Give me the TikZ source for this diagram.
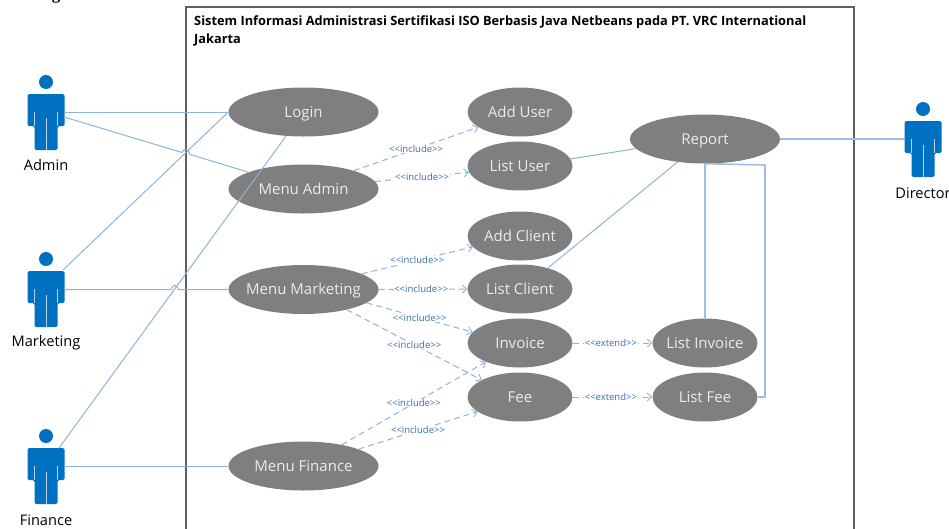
\documentclass[tikz,border=0pt]{standalone}
\usepackage{fontspec}
\setmainfont{Open Sans}
\newfontfamily\headfont{Liberation Serif}
\usetikzlibrary{arrows.meta,shapes.geometric}
\definecolor{lineblue}{HTML}{8AB4DE}
\definecolor{actorblue}{HTML}{0070C0}
\definecolor{ucgray}{HTML}{7F7F7F}
\definecolor{lblblue}{HTML}{3A6EA8}
\definecolor{framegray}{HTML}{5F5F5F}
\newcommand{\uctext}[1]{\raisebox{-.36em}[0pt][0pt]{\makebox[0pt]{#1}}}
\tikzset{
  usecase/.style={ellipse,fill=ucgray,text=white!92!black,inner sep=0pt,font=\fontsize{15}{17}\selectfont},
  wide/.style={usecase,minimum width=150pt,minimum height=49pt},
  narrow/.style={usecase,minimum width=105pt,minimum height=49pt},
  assoc/.style={draw=lineblue,line width=1pt},
  thickassoc/.style={draw=lineblue!85,line width=1.6pt},
  dep/.style={draw=lineblue,line width=1pt,dash pattern=on 6pt off 4pt,-{Straight Barb[length=4.5pt,width=8pt,line width=0.9pt]}},
  deplabel/.style={fill=white,inner sep=0.5pt,text=lblblue,font=\fontsize{9.5}{11}\selectfont},
  actorlabel/.style={text=black,inner sep=0pt,font=\fontsize{14.6}{17}\selectfont},
  actorbox/.style={minimum width=37pt,minimum height=56pt,inner sep=0pt},
  titletext/.style={anchor=west,inner sep=0pt,font=\fontsize{12.8}{15}\selectfont\bfseries},
}
\newcommand{\actorfig}[2]{%
  \begin{scope}[shift={(#1,#2)}]
    \fill[actorblue] (0,-57) circle (7);
    \fill[actorblue,rounded corners=1.5pt] (-18.5,-45) -- (18.5,-45) -- (18.5,-13) -- (11.5,-13) -- (11.5,11) -- (-11.5,11) -- (-11.5,-13) -- (-18.5,-13) -- cycle;
    \draw[white!70!actorblue,line width=0.7pt] (-11.5,-27) -- (-11.5,-13) (11.5,-27) -- (11.5,-13) (0,-21) -- (0,11);
  \end{scope}}
\begin{document}
\begin{tikzpicture}[x=1pt,y=-1pt]
\useasboundingbox (0,0) rectangle (949,528);
\begin{scope}
\clip (0,0) rectangle (949,528);

\node[anchor=base,inner sep=0pt,font=\fontsize{17}{20}\selectfont\headfont\bfseries] (headg) at (56,-0.5) {g};

\draw[framegray,line width=1.3pt] (186,540) -- (186,7) -- (854,7) -- (854,540);
\node[titletext] (title1) at (194,22.5) {Sistem Informasi Administrasi Sertifikasi ISO Berbasis Java Netbeans pada PT. VRC International};
\node[titletext] (title2) at (194,39.5) {Jakarta};

\actorfig{46}{139}
\actorfig{46}{316}
\actorfig{46}{493}
\actorfig{923}{166}
\node[actorbox] (admin) at (45.5,122) {};
\node[actorbox] (marketing) at (45.5,299) {};
\node[actorbox] (finance) at (45.5,476) {};
\node[actorbox] (director) at (923.5,149) {};
\node[actorlabel] (adminl) at (46,165.5) {Admin};
\node[actorlabel] (marketingl) at (46,343) {Marketing};
\node[actorlabel] (financel) at (46,520) {Finance};
\node[actorlabel] (directorl) at (923,193) {Director};

\node[wide] (login) at (303.5,112) {\uctext{Login}};
\node[wide] (madmin) at (303.5,189) {\uctext{Menu Admin}};
\node[wide] (mmark) at (303.5,289.5) {\uctext{Menu Marketing}};
\node[wide] (mfin) at (303.5,466) {\uctext{Menu Finance}};
\node[narrow] (adduser) at (520,112) {\uctext{Add User}};
\node[narrow] (listuser) at (520,166) {\uctext{List User}};
\node[narrow] (addclient) at (520,236) {\uctext{Add Client}};
\node[narrow] (listclient) at (520,289) {\uctext{List Client}};
\node[narrow] (invoice) at (520,343) {\uctext{Invoice}};
\node[narrow] (fee) at (520,397) {\uctext{Fee}};
\node[wide] (report) at (705,139) {\uctext{Report}};
\node[narrow] (listinv) at (705,343) {\uctext{List Invoice}};
\node[narrow] (listfee) at (705,397) {\uctext{List Fee}};

% associations
\coordinate (a1) at (64,112);
\coordinate (a2) at (64,117);
\coordinate (hopa) at (182,152.5);
\coordinate (hopb) at (190,154.5);
\coordinate (m1) at (63,270);
\coordinate (m2) at (64,289.5);
\coordinate (hopc) at (171,289.5);
\coordinate (hopd) at (178.5,289.5);
\coordinate (f1) at (59,448);
\coordinate (f2) at (64,466);
\coordinate (d1) at (905,139);
\draw[assoc] (a1) -- (login.west);
\draw[assoc] (a2) -- (hopa) .. controls (184,148) and (188,148) .. (hopb) -- (madmin.163);
\draw[assoc] (m1) -- (login.west);
\draw[assoc] (m2) -- (hopc) .. controls (173,284) and (176.5,284) .. (hopd) -- (mmark.west);
\draw[assoc] (f1) -- (login.234);
\draw[assoc] (f2) -- (mfin.west);
\draw[assoc] (listuser.8) -- (report.188);
\draw[assoc] (listclient.37) -- (report.220);
\draw[thickassoc] (report.east) -- (d1);
\draw[thickassoc] (report.south) -- (listinv.north);
\draw[thickassoc] (listfee.east) -| (765,165) -- (report.south);

% dependencies
\draw[dep] (madmin.20) -- (adduser.200) node[deplabel,pos=.5] (l1) {<{}<include>{}>};
\draw[dep] (madmin.6) -- (listuser.187) node[deplabel,pos=.5] (l2) {<{}<include>{}>};
\draw[dep] (mmark.15) -- (addclient.193) node[deplabel,pos=.5] (l3) {<{}<include>{}>};
\draw[dep] (mmark.east) -- (listclient.west) node[deplabel,pos=.48] (l4) {<{}<include>{}>};
\draw[dep] (mmark.-12) -- (invoice.167) node[deplabel,pos=.5] (l5) {<{}<include>{}>};
\draw[dep] (mmark.-25) -- (fee.156) node[deplabel,pos=.5] (l6) {<{}<include>{}>};
\draw[dep] (mfin.29) -- (invoice.209) node[deplabel,pos=.5] (l7) {<{}<include>{}>};
\draw[dep] (mfin.17) -- (fee.199) node[deplabel,pos=.5] (l8) {<{}<include>{}>};
\draw[dep] (invoice.east) -- (listinv.west) node[deplabel,pos=.48] (l9) {<{}<extend>{}>};
\draw[dep] (fee.east) -- (listfee.west) node[deplabel,pos=.48] (l10) {<{}<extend>{}>};
\end{scope}
\end{tikzpicture}
\end{document}
